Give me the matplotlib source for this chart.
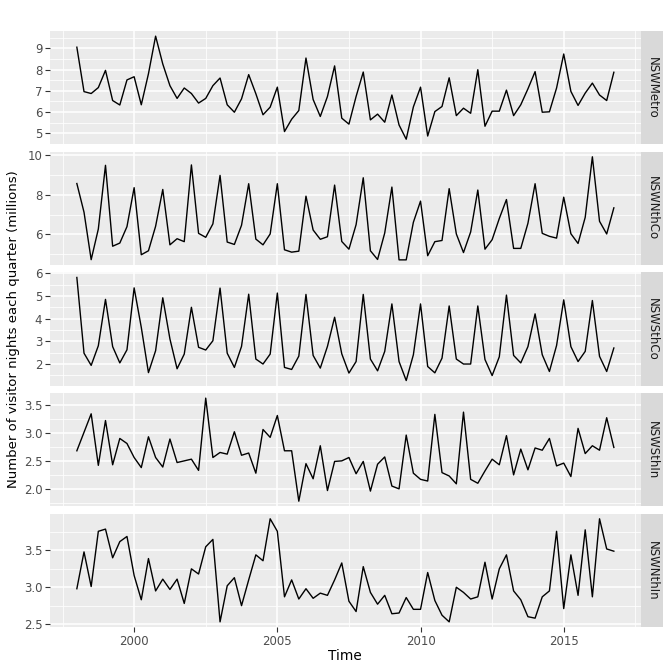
import numpy as np
import matplotlib
matplotlib.use("Agg")
import matplotlib.pyplot as plt

# quarterly visitor nights, 1998 Q1 - 2016 Q4
nsw_metro = [9.05, 6.96, 6.87, 7.15, 7.96, 6.54, 6.33, 7.51, 7.66, 6.34,
             7.80, 9.57, 8.26, 7.24, 6.64, 7.13, 6.87, 6.42, 6.64, 7.24,
             7.60, 6.34, 5.99, 6.62, 7.76, 6.86, 5.87, 6.23, 7.17, 5.08,
             5.66, 6.07, 8.54, 6.59, 5.79, 6.73, 8.17, 5.71, 5.43, 6.73,
             7.88, 5.63, 5.90, 5.52, 6.80, 5.39, 4.72, 6.24, 7.17, 4.87,
             6.02, 6.26, 7.61, 5.83, 6.18, 5.94, 7.99, 5.33, 6.04, 6.04,
             7.03, 5.83, 6.34, 7.09, 7.90, 5.99, 6.01, 7.13, 8.73, 6.97,
             6.31, 6.89, 7.36, 6.80, 6.54, 7.87]
nsw_nthco = [8.57, 7.12, 4.72, 6.27, 9.49, 5.40, 5.56, 6.39, 8.36, 4.97,
             5.17, 6.41, 8.27, 5.47, 5.78, 5.63, 9.51, 6.05, 5.85, 6.53,
             8.98, 5.61, 5.49, 6.46, 8.56, 5.76, 5.47, 6.02, 8.56, 5.22,
             5.10, 5.15, 7.93, 6.22, 5.75, 5.88, 8.49, 5.64, 5.25, 6.49,
             8.86, 5.17, 4.73, 6.07, 8.39, 4.71, 4.71, 6.61, 7.68, 4.92,
             5.63, 5.69, 8.31, 6.02, 5.08, 6.12, 8.24, 5.25, 5.73, 6.80,
             7.76, 5.29, 5.29, 6.56, 8.56, 6.05, 5.90, 5.81, 7.88, 6.03,
             5.54, 6.86, 9.92, 6.66, 6.02, 7.34]
nsw_sthco = [5.82, 2.47, 1.93, 2.80, 4.85, 2.76, 2.04, 2.62, 5.36, 3.61,
             1.61, 2.58, 4.92, 3.10, 1.78, 2.43, 4.50, 2.73, 2.61, 3.02,
             5.35, 2.47, 1.84, 2.77, 5.08, 2.21, 1.99, 2.43, 5.13, 1.84,
             1.75, 2.34, 5.07, 2.37, 1.81, 2.77, 4.06, 2.44, 1.59, 2.10,
             5.07, 2.21, 1.69, 2.55, 4.65, 2.10, 1.26, 2.40, 4.65, 1.88,
             1.60, 2.25, 4.56, 2.21, 1.99, 1.99, 4.56, 2.19, 1.48, 2.31,
             5.04, 2.37, 2.04, 2.76, 4.21, 2.40, 1.66, 2.81, 4.83, 2.76,
             2.10, 2.55, 4.80, 2.33, 1.66, 2.70]
nsw_sthin = [2.68, 3.01, 3.34, 2.42, 3.22, 2.43, 2.90, 2.81, 2.56, 2.38,
             2.93, 2.56, 2.39, 2.89, 2.47, 2.50, 2.53, 2.33, 3.62, 2.56,
             2.65, 2.62, 3.02, 2.60, 2.64, 2.28, 3.06, 2.92, 3.31, 2.68,
             2.68, 1.78, 2.45, 2.18, 2.77, 1.97, 2.49, 2.50, 2.56, 2.27,
             2.49, 1.96, 2.44, 2.57, 2.05, 2.00, 2.96, 2.28, 2.17, 2.14,
             3.33, 2.29, 2.23, 2.09, 3.37, 2.17, 2.10, 2.32, 2.53, 2.43,
             2.95, 2.25, 2.71, 2.34, 2.73, 2.69, 2.90, 2.41, 2.46, 2.22,
             3.08, 2.63, 2.77, 2.69, 3.27, 2.74]
nsw_nthin = [2.98, 3.48, 3.01, 3.76, 3.79, 3.40, 3.62, 3.69, 3.16, 2.83,
             3.39, 2.95, 3.11, 2.97, 3.11, 2.78, 3.25, 3.18, 3.55, 3.65,
             2.53, 3.02, 3.13, 2.75, 3.10, 3.44, 3.36, 3.93, 3.76, 2.87,
             3.10, 2.84, 2.98, 2.85, 2.92, 2.89, 3.10, 3.33, 2.81, 2.67,
             3.28, 2.93, 2.77, 2.89, 2.64, 2.65, 2.86, 2.70, 2.70, 3.20,
             2.82, 2.62, 2.53, 3.00, 2.93, 2.84, 2.87, 3.34, 2.84, 3.25,
             3.44, 2.95, 2.83, 2.60, 2.58, 2.87, 2.95, 3.76, 2.71, 3.44,
             2.89, 3.78, 2.87, 3.93, 3.52, 3.49]

series_names = ["NSWMetro", "NSWNthCo", "NSWSthCo", "NSWSthIn", "NSWNthIn"]
series_vals = [nsw_metro, nsw_nthco, nsw_sthco, nsw_sthin, nsw_nthin]
y_breaks = [[5, 6, 7, 8, 9], [6, 8, 10], [2, 3, 4, 5, 6],
            [2.0, 2.5, 3.0, 3.5], [2.5, 3.0, 3.5]]
y_fmt = ["{:.0f}", "{:.0f}", "{:.0f}", "{:.1f}", "{:.1f}"]
x_breaks = [2000, 2005, 2010, 2015]
x_minor = [1997.5, 2002.5, 2007.5, 2012.5, 2017.5]

time = 1998 + np.arange(76) / 4.0

W = H = 672
fig = plt.figure(figsize=(6.72, 6.72), dpi=100)

left, right = 50, 640.7
top, bottom = 31, 627
gap = 7.3
ph = (bottom - top - 4 * gap) / 5
strip_w = 22.6

xr = time.max() - time.min()
xlim = (time.min() - 0.05 * xr, time.max() + 0.05 * xr)
grey30 = "#4D4D4D"

for i, (name, vals) in enumerate(zip(series_names, series_vals)):
    y0 = top + i * (ph + gap)
    ax = fig.add_axes([left / W, 1 - (y0 + ph) / H, (right - left) / W, ph / H])
    ax.set_facecolor("#EBEBEB")
    vals = np.array(vals)
    yr = vals.max() - vals.min()
    ylim = (vals.min() - 0.05 * yr, vals.max() + 0.05 * yr)

    # gridlines
    br = y_breaks[i]
    step = br[1] - br[0]
    minors = [b - step / 2 for b in br] + [br[-1] + step / 2]
    for m in minors:
        if ylim[0] <= m <= ylim[1]:
            ax.axhline(m, color="white", lw=0.55, zorder=0)
    for b in br:
        ax.axhline(b, color="white", lw=1.1, zorder=0)
    for m in x_minor:
        ax.axvline(m, color="white", lw=0.55, zorder=0)
    for b in x_breaks:
        ax.axvline(b, color="white", lw=1.1, zorder=0)

    ax.plot(time, vals, color="black", lw=1.0, zorder=2)
    ax.set_xlim(xlim)
    ax.set_ylim(ylim)
    ax.set_yticks(br)
    ax.set_yticklabels([y_fmt[i].format(b) for b in br])
    ax.set_xticks(x_breaks)
    for s in ax.spines.values():
        s.set_visible(False)
    ax.tick_params(axis="both", colors="#333333", length=3.5, width=0.8,
                   labelsize=8.5, labelcolor=grey30, pad=2)
    if i < 4:
        ax.tick_params(axis="x", bottom=False, labelbottom=False)

    # strip on the right
    sax = fig.add_axes([right / W, 1 - (y0 + ph) / H, strip_w / W, ph / H])
    sax.set_facecolor("#D9D9D9")
    sax.set_xticks([])
    sax.set_yticks([])
    for s in sax.spines.values():
        s.set_visible(False)
    sax.text(0.5, 0.5, name, rotation=-90, ha="center", va="center",
             fontsize=8.5, color="#1A1A1A", transform=sax.transAxes)

fig.text(14 / W, 1 - ((top + bottom) / 2) / H,
         "Number of visitor nights each quarter (millions)",
         rotation=90, ha="center", va="center", fontsize=9.5)
fig.text(((left + right) / 2) / W, 1 - 656 / H, "Time",
         ha="center", va="center", fontsize=9.8)

fig.savefig("out.png", dpi=100, facecolor="white")
